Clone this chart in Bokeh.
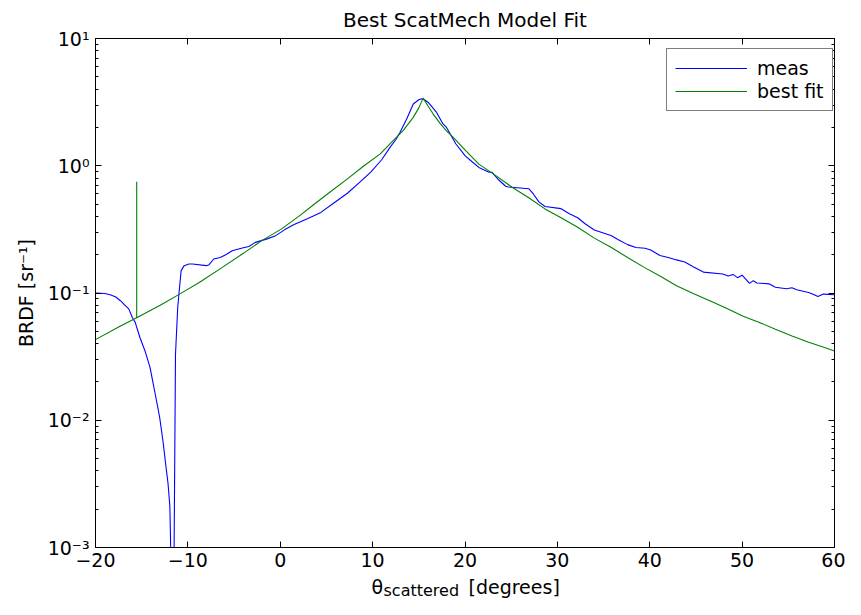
from bokeh.plotting import figure
from bokeh.models import (Range1d, FixedTicker, LinearAxis, LogAxis, CustomJSTickFormatter,
                          Legend, LegendItem, Label)
from bokeh.layouts import column
from bokeh.embed import file_html
from bokeh.resources import INLINE

# ---------------- data ----------------
meas_x = [-20.0, -19.0, -18.4, -17.8, -17.3, -16.8, -16.4, -16.0, -15.7, -15.2, -14.65, -14.1,
          -13.75, -13.4, -13.05, -12.7, -12.4, -12.15, -11.95, -11.78, -11.52, -11.44, -11.34,
          -11.1, -10.9, -10.73, -10.4, -9.9, -9.5, -8.0, -7.7, -7.2, -6.5, -5.9, -5.2, -4.1,
          -3.4, -2.7, -1.5, -0.57, 0.5, 1.5, 3.0, 4.4, 5.8, 7.27, 8.5, 9.8, 11.0, 11.9, 12.5,
          12.97, 13.7, 14.4, 15.0, 15.3, 15.6, 16.0, 16.9, 17.6, 18.0, 19.0, 20.0, 20.8, 21.5,
          22.6, 22.9, 23.6, 24.4, 24.7, 26.9, 27.4, 28.0, 28.66, 30.4, 31.3, 32.2, 33.0, 34.0,
          35.8, 36.6, 37.6, 38.5, 39.5, 40.1, 41.1, 42.0, 42.9, 43.8, 44.7, 45.8, 47.9, 48.5,
          49.0, 49.5, 50.0, 50.8, 51.2, 51.6, 52.9, 53.6, 54.8, 55.4, 55.9, 57.2, 57.8, 58.2,
          58.8, 60.0]
meas_y = [0.100, 0.099, 0.097, 0.093, 0.087, 0.080, 0.075, 0.064, 0.0588, 0.0449, 0.0352, 0.026,
          0.0193, 0.0143, 0.0105, 0.0069, 0.0045, 0.0032, 0.0021, 0.0005, 0.0005, 0.0032, 0.033,
          0.077, 0.111, 0.150, 0.164, 0.169, 0.169, 0.164, 0.167, 0.185, 0.190, 0.200, 0.215, 0.226,
          0.232, 0.250, 0.265, 0.280, 0.315, 0.345, 0.385, 0.43, 0.51, 0.608, 0.73, 0.89, 1.12, 1.40, 1.60,
          1.83, 2.34, 3.06, 3.30, 3.36, 3.30, 3.16, 2.64, 2.14, 2.00, 1.49, 1.20, 1.07, 0.97,
          0.89, 0.89, 0.78, 0.69, 0.68, 0.66, 0.60, 0.52, 0.478, 0.46, 0.42, 0.39, 0.35, 0.313,
          0.283, 0.262, 0.240, 0.228, 0.225, 0.218, 0.197, 0.190, 0.182, 0.175, 0.161, 0.146, 0.141, 0.136,
          0.140, 0.132, 0.138, 0.119, 0.125, 0.120, 0.118, 0.111, 0.108, 0.110, 0.106, 0.101, 0.097, 0.094,
          0.098, 0.097]

fit_x = [-20.0, -17.5, -15.54, -15.54, -15.54, -13.0, -10.9, -8.77, -6.27, -4.0, -2.0, 0.14, 2.0,
         3.71, 5.5, 7.27, 9.0, 10.83, 11.9, 13.3, 14.4, 15.0, 15.47, 16.0, 16.54, 17.3, 17.97,
         18.7, 20.1, 21.5, 23.3, 25.1, 26.9, 28.66, 30.4, 32.2, 34.0, 35.8, 37.6, 39.4, 41.2,
         42.9, 44.7, 46.5, 48.3, 50.05, 51.8, 53.6, 55.4, 57.2, 58.6, 60.0]
fit_y = [0.043, 0.054, 0.064, 0.75, 0.064, 0.080, 0.098, 0.121, 0.159, 0.205, 0.258, 0.319, 0.40,
         0.50, 0.63, 0.789, 0.99, 1.24, 1.49, 1.89, 2.40, 2.85, 3.40, 2.95, 2.56, 2.15, 1.89,
         1.68, 1.31, 1.03, 0.84, 0.678, 0.56, 0.458, 0.39, 0.329, 0.27, 0.229, 0.19, 0.159, 0.135,
         0.114, 0.099, 0.087, 0.076, 0.066, 0.059, 0.052, 0.046, 0.041, 0.038, 0.035]

x_ticks = [-20, -10, 0, 10, 20, 30, 40, 50, 60]
y_ticks = [1e-3, 1e-2, 1e-1, 1e0, 1e1]
y_tick_labels = ["10\u207b\u00b3", "10\u207b\u00b2", "10\u207b\u00b9", "10\u2070", "10\u00b9"]
y_minor = [m * d for d in [1e-3, 1e-2, 1e-1, 1e0] for m in range(2, 10)]

FONT = "DejaVu Sans"
W = 845
H1 = 575
H2 = 24
FRAME_L, FRAME_R, FRAME_T, FRAME_B = 95, 834, 38, 547

p = figure(width=W, height=H1, x_range=Range1d(-20, 60), y_range=Range1d(1e-3, 10),
           y_axis_type="log", output_backend="svg", toolbar_location=None,
           min_border_left=FRAME_L, min_border_right=W - FRAME_R, min_border_top=FRAME_T,
           min_border_bottom=H1 - FRAME_B, title="Best ScatMech Model Fit")
p.title.align = "center"
p.title.vertical_align = "top"
p.title.text_font = FONT
p.title.text_font_size = "20px"
p.title.text_font_style = "normal"
p.title.text_color = "black"
p.title.standoff = 10
p.xgrid.visible = False
p.ygrid.visible = False
p.outline_line_color = "black"
p.outline_line_width = 1
p.background_fill_color = "white"
p.border_fill_color = "white"

yt = FixedTicker(ticks=y_ticks, minor_ticks=y_minor)
xt = FixedTicker(ticks=x_ticks)
yfmt = CustomJSTickFormatter(args=dict(vals=y_ticks, labs=y_tick_labels), code="""
let best = 0, bd = Infinity;
for (let i = 0; i < vals.length; i++) {
  const d = Math.abs(Math.log10(tick) - Math.log10(vals[i]));
  if (d < bd) { bd = d; best = i; }
}
return labs[best];
""")
blank = CustomJSTickFormatter(code="return '';")

def style(ax, labels=True):
    ax.axis_line_color = "black"
    ax.major_tick_in = 6
    ax.major_tick_out = 0
    ax.minor_tick_in = 3
    ax.minor_tick_out = 0
    ax.major_tick_line_color = "black"
    ax.minor_tick_line_color = "black"
    ax.major_label_text_font = FONT
    ax.major_label_text_font_size = "19px" if labels else "0px"
    ax.major_label_text_color = "black"
    if not labels:
        ax.major_label_standoff = 0

xa = p.xaxis[0]
xa.ticker = xt
style(xa)
xa.minor_tick_line_color = None
xa.major_label_standoff = 5

ya = p.yaxis[0]
ya.ticker = yt
ya.formatter = yfmt
style(ya)
ya.major_label_standoff = 6
ya.axis_label = "BRDF [sr\u207b\u00b9]"
ya.axis_label_text_font = FONT
ya.axis_label_text_font_size = "19px"
ya.axis_label_text_font_style = "normal"
ya.axis_label_text_color = "black"
ya.axis_label_standoff = 8

top = LinearAxis(ticker=xt, formatter=blank)
style(top, labels=False)
top.minor_tick_line_color = None
p.add_layout(top, "above")

right = LogAxis(ticker=yt, formatter=blank)
style(right, labels=False)
p.add_layout(right, "right")

r_meas = p.line(meas_x, meas_y, line_color="#0000ff", line_width=1.1)
r_fit = p.line(fit_x, fit_y, line_color="#008000", line_width=1.1)

legend = Legend(items=[LegendItem(label="meas", renderers=[r_meas]),
                       LegendItem(label="best fit", renderers=[r_fit])],
                location=(666 - FRAME_L, FRAME_B - 111))
legend.label_text_font = FONT
legend.label_text_font_size = "19px"
legend.label_text_color = "black"
legend.border_line_color = "black"
legend.border_line_width = 1
legend.background_fill_alpha = 1
legend.padding = 8
legend.spacing = 1
legend.margin = 0
legend.glyph_width = 72
legend.glyph_height = 20
legend.label_height = 20
legend.label_standoff = 10
p.add_layout(legend)

# x axis label strip (theta with subscript) in a companion canvas;
# its frame is aligned with the main plot's frame (left edge at FRAME_L)
q = figure(width=W, height=H2, x_range=Range1d(0, 1), y_range=Range1d(0, 1),
           output_backend="svg", toolbar_location=None, x_axis_location=None,
           y_axis_location=None, min_border=0, outline_line_color=None, title=None)
q.xgrid.visible = False
q.ygrid.visible = False
q.border_fill_color = "white"
q.background_fill_color = "white"
q.add_layout(Label(x=371 - FRAME_L, y=13, x_units="screen", y_units="screen", text="\u03b8",
                   text_font=FONT, text_font_size="19px", text_baseline="alphabetic",
                   text_align="left", text_color="black"))
q.add_layout(Label(x=383 - FRAME_L, y=9, x_units="screen", y_units="screen", text="scattered",
                   text_font=FONT, text_font_size="16px", text_baseline="alphabetic",
                   text_align="left", text_color="black"))
q.add_layout(Label(x=468 - FRAME_L, y=13, x_units="screen", y_units="screen", text="[degrees]",
                   text_font=FONT, text_font_size="19px", text_baseline="alphabetic",
                   text_align="left", text_color="black"))

layout = column(p, q, spacing=0)
open("out.html", "w").write(file_html(layout, INLINE))
